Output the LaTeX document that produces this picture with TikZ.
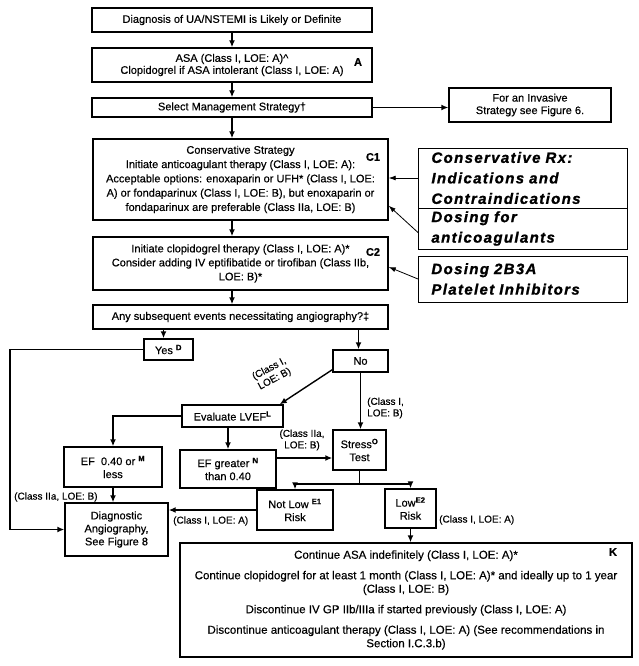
\documentclass[tikz,border=0pt]{standalone}
\usepackage{fontspec}
\setmainfont{Liberation Sans}[FakeBold=0.4, BoldFeatures={FakeBold=0.6}]
\newfontfamily\rxfont[LetterSpace=9.0, BoldItalicFeatures={FakeBold=1.2}]{Liberation Sans}
\usetikzlibrary{arrows.meta}

\begin{document}
\begin{tikzpicture}[x=1pt, y=-1pt,
  every node/.style={font=\fontsize{11}{13}\selectfont},
  box/.style={draw, line width=1.4pt, align=center, inner sep=1pt},
  rxbox/.style={draw, line width=0.9pt, anchor=west, align=left, text width=183pt, inner xsep=13pt, inner ysep=0pt, font=\rxfont\bfseries\itshape\fontsize{15}{20.5}\selectfont},
  tag/.style={font=\fontsize{11}{12}\selectfont\bfseries, inner sep=0pt},
  note/.style={font=\fontsize{10}{11.5}\selectfont, align=left, inner sep=0pt},
  flow/.style={line width=1.4pt, -{Latex[length=7pt,width=6pt]}},
  thin flow/.style={line width=0.8pt, -{Latex[length=7pt,width=5pt]}}]

\useasboundingbox (0,0) rectangle (639,666);

% Top of the chart
\node[box, minimum width=280, minimum height=24] (diag) at (232,20) {Diagnosis of UA/NSTEMI is Likely or Definite};
\node[box, minimum width=280, minimum height=34, font=\fontsize{11}{12}\selectfont] (asa) at (232,65) {ASA (Class I, LOE: A)\textasciicircum\\ Clopidogrel if ASA intolerant (Class I, LOE: A)};
\node[tag] (tagA) at (358,62) {A};
\node[box, minimum width=280, minimum height=19] (select) at (232,107.5) {Select Management Strategy\textdagger};
\node[box, minimum width=162, minimum height=34, font=\fontsize{11}{12.5}\selectfont] (invasive) at (530,105) {For an Invasive\\ Strategy see Figure 6.};

% Conservative strategy
\node[box, minimum width=295, minimum height=81, font=\fontsize{11}{14.3}\selectfont] (cons) at (240.5,179.5) {Conservative Strategy\\ Initiate anticoagulant therapy (Class I, LOE: A):\\ Acceptable options: enoxaparin or UFH* (Class I, LOE:\\ A) or fondaparinux (Class I, LOE: B), but enoxaparin or\\ fondaparinux are preferable (Class IIa, LOE: B)};
\node[tag] (tagC1) at (373,157) {C1};
\node[box, minimum width=295, minimum height=53, font=\fontsize{11}{14}\selectfont] (clop) at (240.5,263.5) {Initiate clopidogrel therapy (Class I, LOE: A)*\\ Consider adding IV eptifibatide or tirofiban (Class IIb,\\ LOE: B)*};
\node[tag] (tagC2) at (373,252) {C2};

% Side boxes
\node[rxbox, minimum height=60] (rxind) at (418,178) {Conservative Rx:\\ Indications and\\ Contraindications};
\node[rxbox, minimum height=41] (dosanti) at (418,228.5) {Dosing for\\ anticoagulants};
\node[rxbox, minimum height=46] (dosgp) at (418,279) {Dosing 2B3A\\ Platelet Inhibitors};

% Decision
\node[box, minimum width=295, minimum height=24] (anyev) at (240.5,317) {Any subsequent events necessitating angiography?\textdaggerdbl};
\node[box, minimum width=49, minimum height=21] (yes) at (168.5,349.5) {Yes \textsuperscript{\textbf{D}}};
\node[box, minimum width=55, minimum height=22] (no) at (360.5,361) {No};
\node[box, minimum width=101, minimum height=22] (lvef) at (232.5,416) {Evaluate LVEF\textsuperscript{\textbf{L}}};
\node[box, minimum width=98, minimum height=40] (efless) at (113,467) {EF\ \ 0.40 or \textsuperscript{\textbf{M}}\\ less};
\node[box, minimum width=96, minimum height=38] (efgt) at (228,469) {EF greater \textsuperscript{\textbf{N}}\\ than 0.40};
\node[box, minimum width=53, minimum height=40] (stress) at (359.5,450) {Stress\textsuperscript{\textbf{O}}\\ Test};
\node[box, minimum width=76, minimum height=40] (notlow) at (295,510) {Not Low \textsuperscript{\textbf{E1}}\\ Risk};
\node[box, minimum width=51, minimum height=39] (lowrisk) at (410.5,508.5) {Low\textsuperscript{\textbf{E2}}\\ Risk};
\node[box, minimum width=103, minimum height=53] (angio) at (116.5,529.5) {Diagnostic\\ Angiography,\\ See Figure 8};
\node[box, minimum width=452, minimum height=114, font=\fontsize{11.5}{13.5}\selectfont] (kbox) at (406,600) {Continue ASA indefinitely (Class I, LOE: A)*\\[7pt]
  Continue clopidogrel for at least 1 month (Class I, LOE: A)* and ideally up to 1 year\\ (Class I, LOE: B)\\[7pt]
  Discontinue IV GP IIb/IIIa if started previously (Class I, LOE: A)\\[7pt]
  Discontinue anticoagulant therapy (Class I, LOE: A) (See recommendations in\\ Section I.C.3.b)};
\node[tag] (tagK) at (613,552) {K};

% Labels on the arrows
\node[note, rotate=28, align=center] (lbnolvef) at (272,374) {(Class I,\\ LOE: B)};
\node[note, anchor=west] (lbnostress) at (367,408) {(Class I,\\ LOE: B)};
\node[note, align=center] (lbefgt) at (302,440) {(Class IIa,\\ LOE: B)};
\node[note, anchor=west] (lbefless) at (14,497) {(Class IIa, LOE: B)};
\node[note, anchor=west] (lbnotlow) at (173,521) {(Class I, LOE: A)};
\node[note, anchor=west] (lblow) at (439,520) {(Class I, LOE: A)};

\coordinate (fork) at (359.5,484);
\coordinate (yesturn) at (10,529.5);

% Arrows
\draw[flow] (diag) -- (asa);
\draw[flow] (asa) -- (select);
\draw[flow] (select.east) -- (select.east -| invasive.west);
\draw[flow] (select) -- (select |- cons.north);
\draw[flow] (select |- cons.south) -- (select |- clop.north);
\draw[flow] (select |- clop.south) -- (select |- anyev.north);
\draw[thin flow] (rxind.west) -- (rxind.west -| cons.east);
\draw[thin flow] ([yshift=-4pt]dosanti.west) -- ([yshift=15pt]cons.south east);
\draw[thin flow] (dosgp.west) -- ([yshift=-3.5pt]clop.east);

% Second part
\draw[flow] ([xshift=-5pt]yes.north |- anyev.south) -- ([xshift=-5pt]yes.north);
\draw[flow] ([xshift=-2pt]no.north |- anyev.south) -- ([xshift=-2pt]no.north);
\draw[flow] (yes.west) -| (yesturn) -- (angio.west);
\draw[flow] ([yshift=3pt]no.south west) -- ([xshift=-4pt]lvef.north east);
\draw[flow] (no) -- (no |- stress.north);
\draw[flow] (lvef.west) -| (efless.north);
\draw[flow] (lvef.south -| efgt) -- (efgt.north);
\draw[flow] ([yshift=11pt]efgt.east) -- ([yshift=11pt]efgt.east -| stress.west);
\draw[line width=1.4pt] (stress.south) -- (fork);
\draw[flow] (fork) -| (notlow.north);
\draw[flow] (fork) -| (lowrisk.north);
\draw[flow] (lowrisk.south) -- (lowrisk.south |- kbox.north);
\draw[flow] (notlow.west) -- (notlow.west -| angio.east);
\draw[flow] (efless) -- (efless |- angio.north);

\end{tikzpicture}
\end{document}
